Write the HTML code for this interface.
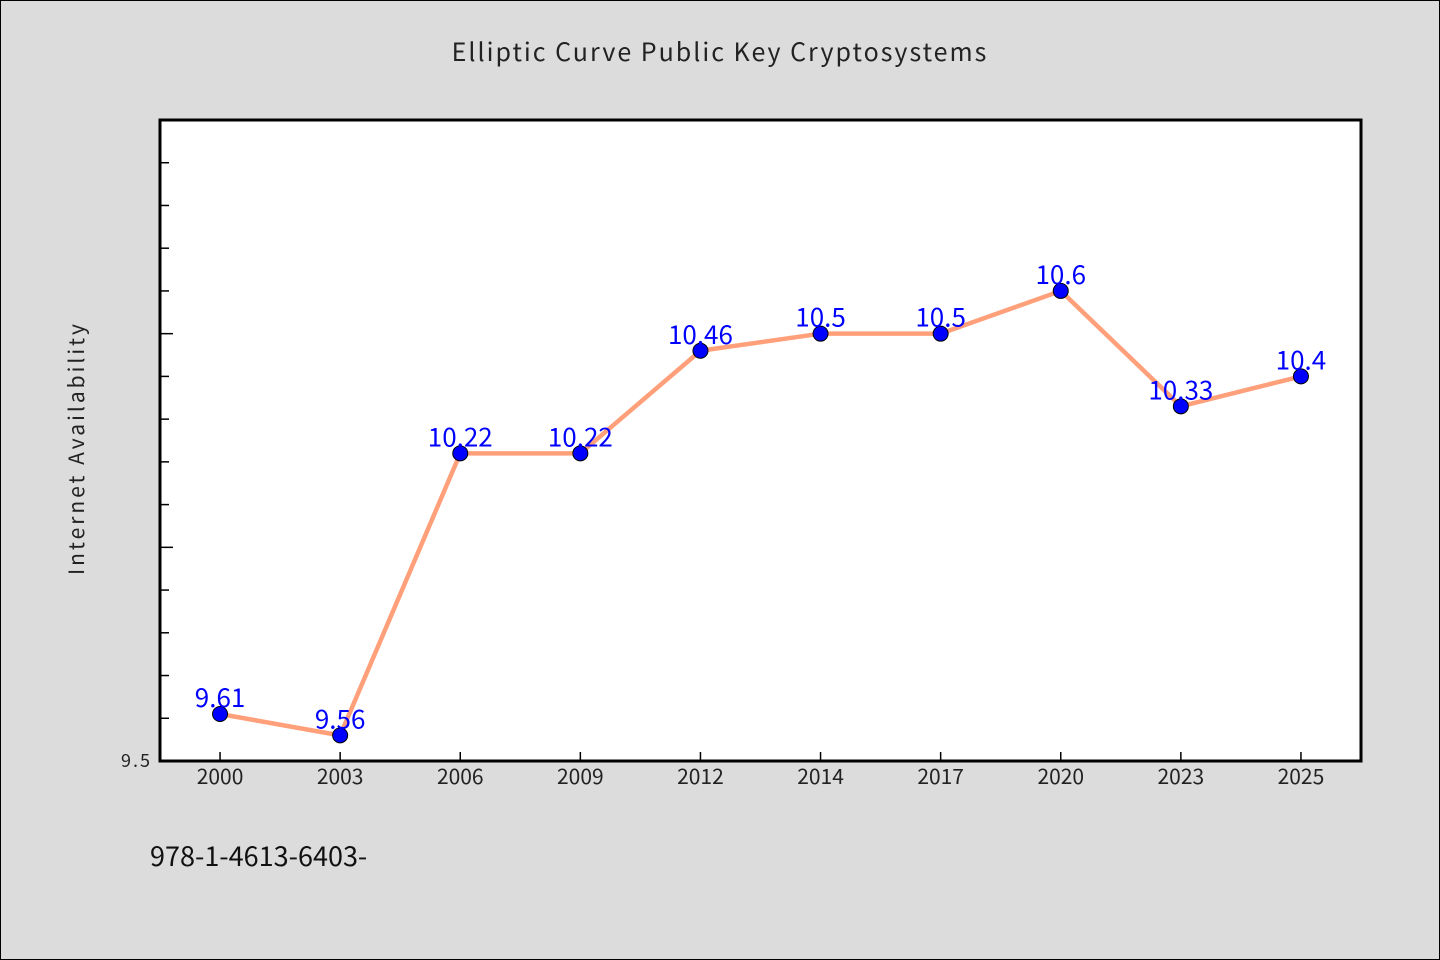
<!DOCTYPE html>
<html><head><meta charset="utf-8"><style>
body{margin:0;background:#dcdcdc;}
svg{display:block;font-family:"WenQuanYi Zen Hei","Noto Sans CJK SC","Liberation Sans",sans-serif;}
</style></head><body>
<svg id="chart" width="1440" height="960" viewBox="0 0 1440 960">
<rect x="0.5" y="0.5" width="1439" height="959" fill="#dcdcdc" stroke="#000"/>
<text x="720" y="61" text-anchor="middle" font-size="25" fill="#222" letter-spacing="2">Elliptic Curve Public Key Cryptosystems</text>
<rect x="160" y="120" width="1201" height="641" fill="#fff" stroke="#000" stroke-width="3"/>
<text transform="translate(84,448) rotate(-90)" text-anchor="middle" font-size="21" fill="#222" letter-spacing="3">Internet Availability</text>
<text x="150" y="866" font-size="27" fill="#111">978-1-4613-6403-</text>
<g id="axes"></g><g id="marks"></g>
</svg>
<script>
const categories=["2000","2003","2006","2009","2012","2014","2017","2020","2023","2025"];
const values=[9.61,9.56,10.22,10.22,10.46,10.5,10.5,10.6,10.33,10.4];
const labels=["9.61","9.56","10.22","10.22","10.46","10.5","10.5","10.6","10.33","10.4"];
const yMin=9.5,yMax=11.0;
const NS="http://www.w3.org/2000/svg";
const L=160,R=1361,T=120,B=761;
const bw=(R-L)/categories.length;
const xs=i=>L+bw*(i+0.5);
const ys=v=>B-(v-yMin)/(yMax-yMin)*(B-T);
function mk(t,a,p){const e=document.createElementNS(NS,t);for(const k in a)e.setAttribute(k,a[k]);p.appendChild(e);return e;}
const ax=document.getElementById('axes'),mg=document.getElementById('marks');
for(let k=1;k<15;k++){const v=yMin+k*0.1;const y=ys(v);
const t=mk('line',{x1:L+1,x2:L+1+(k%5==0?12:8),y1:y,y2:y,stroke:'#000','stroke-width':1.5},ax);

}
const yl=mk('text',{x:152,y:B+6,'text-anchor':'end','font-size':18,fill:'#222','letter-spacing':2},ax);yl.textContent="9.5";


categories.forEach((c,i)=>{const x=xs(i);
const t=mk('line',{x1:x,x2:x,y1:B-1,y2:B-9,stroke:'#000','stroke-width':1.5},ax);


const tl=mk('text',{x:x,y:B+23,'text-anchor':'middle','font-size':21,fill:'#222'},ax);tl.textContent=c;

});
const pl=mk('polyline',{points:values.map((v,i)=>xs(i)+','+ys(v)).join(' '),fill:'none',stroke:'#ffa07a','stroke-width':4.5,'stroke-linejoin':'round'},mg);


values.forEach((v,i)=>{
const c=mk('circle',{cx:xs(i),cy:ys(v),r:7.5,fill:'#0000ff',stroke:'#000','stroke-width':1},mg);


const t=mk('text',{x:xs(i),y:ys(v)-7,'text-anchor':'middle','font-size':26,fill:'#0000ff'},mg);t.textContent=labels[i];

});
</script>
</body></html>
